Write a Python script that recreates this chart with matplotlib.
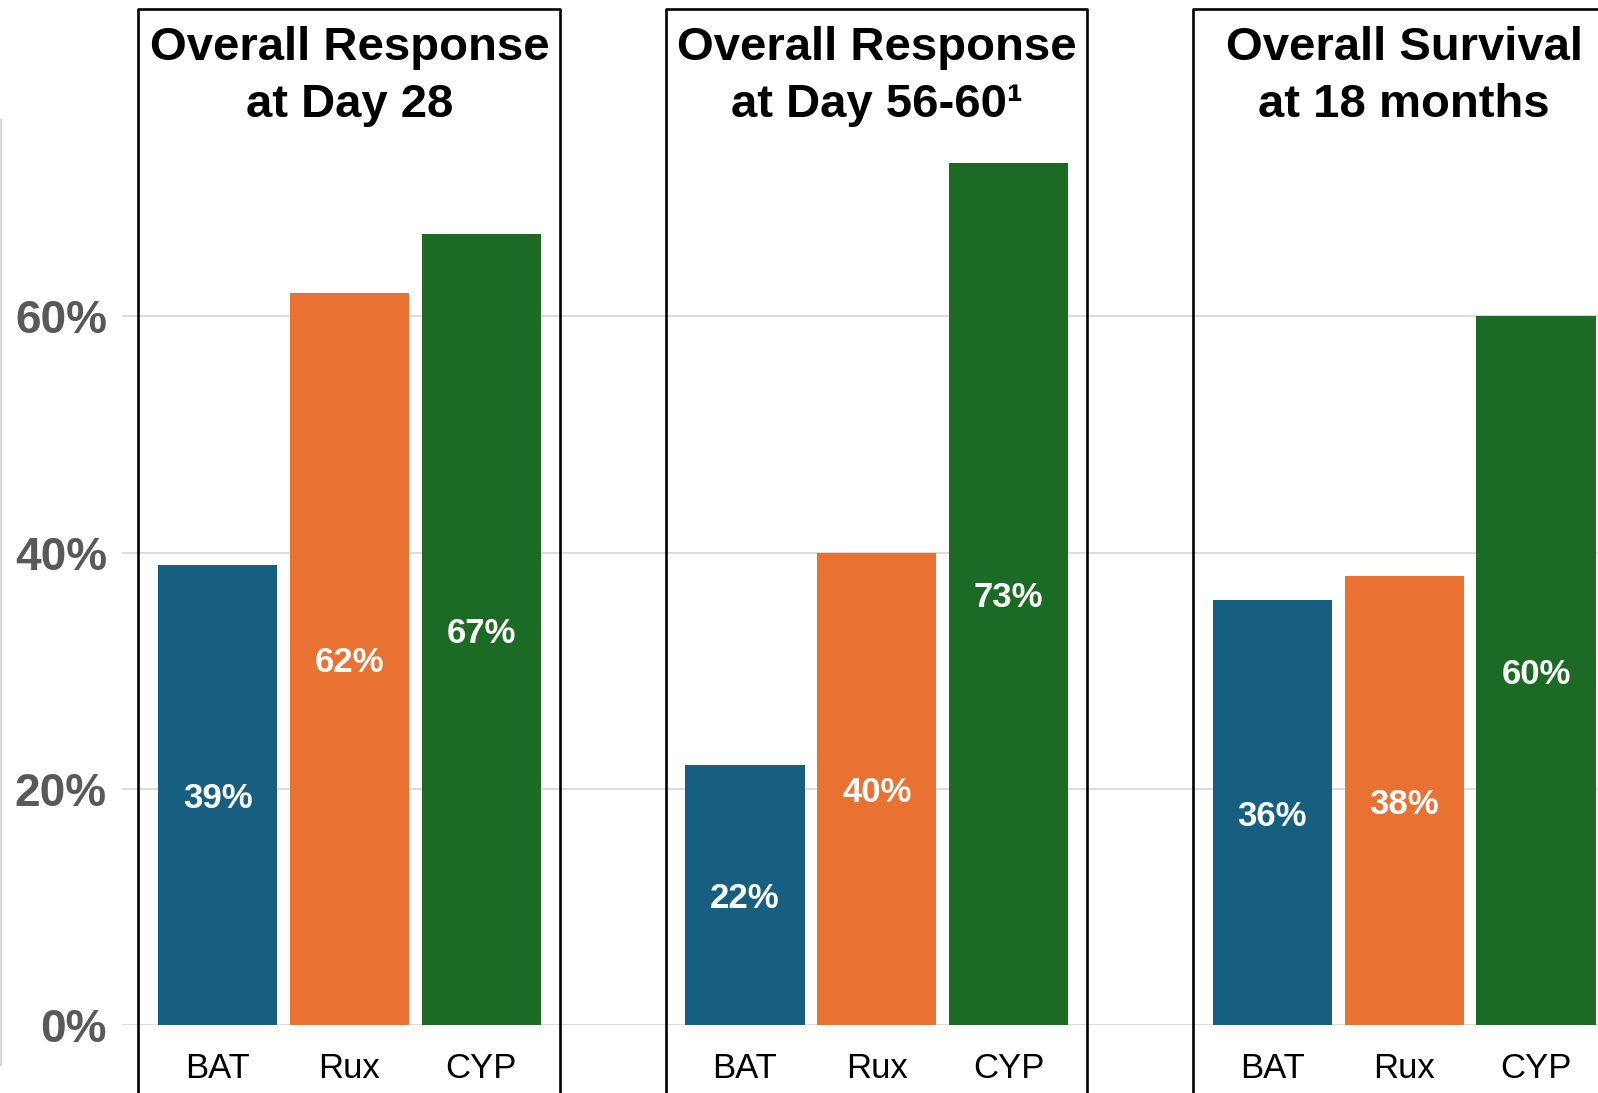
import numpy as np
import matplotlib.pyplot as plt
from matplotlib.lines import Line2D

plt.rcParams['font.family'] = ['Liberation Sans', 'DejaVu Sans']

# Data
titles = ['Overall Response\nat Day 28', 'Overall Response\nat Day 56-60\u00b9', 'Overall Survival\nat 18 months']
arms = ['BAT', 'Rux', 'CYP']
bat = [39, 22, 36]
rux = [62, 40, 38]
cyp = [67, 73, 60]
colors = ['#175f80', '#e97132', '#1b6b24']

fig = plt.figure(figsize=(15.98, 10.93), dpi=100)
ax = fig.add_axes([0.0765, 0.0619, 0.9235, 0.8281])

group_start = np.array([0, 4, 8])
width = 0.905
for i, vals in enumerate([bat, rux, cyp]):
    x = group_start + i
    ax.bar(x, vals, width=width, color=colors[i], zorder=2)
    for xx, v in zip(x, vals):
        ax.text(xx, v / 2, f'{v}%', ha='center', va='center_baseline', color='white',
                fontsize=25, fontweight='bold', zorder=3)

# boxes round each group, with titles
for g, t in zip(group_start, titles):
    ax.plot([g - 0.6, g - 0.6, g + 2.594, g + 2.594], [-10, 86.0, 86.0, -10],
            color='black', lw=1.9, clip_on=False, zorder=4)
    ax.text(g + 1, 80.3, t, ha='center', va='center', fontsize=34,
            fontweight='bold', linespacing=1.36, clip_on=False)

ax.set_xlim(-0.723, 10.47)
ax.set_ylim(0, 76.6)

ax.set_yticks([0, 20, 40, 60])
ax.set_yticklabels(['0%', '20%', '40%', '60%'], fontsize=33, fontweight='bold', color='#595959')
ax.set_xticks(np.concatenate([group_start + i for i in range(3)]))
ax.set_xticklabels([a for a in arms for _ in range(3)], fontsize=25)
ax.tick_params(axis='y', length=0, pad=11)
ax.tick_params(axis='x', length=0, pad=19)

ax.grid(axis='y', color='#d9d9d9', lw=1.3, zorder=0)
ax.set_axisbelow(True)
for s in ax.spines.values():
    s.set_visible(False)

# thin grey line at the far left edge
fig.add_artist(Line2D([0.0008, 0.0008], [0.0256, 0.890], color='#d9d9d9', lw=1.6))

fig.savefig('out.png', dpi=100)
